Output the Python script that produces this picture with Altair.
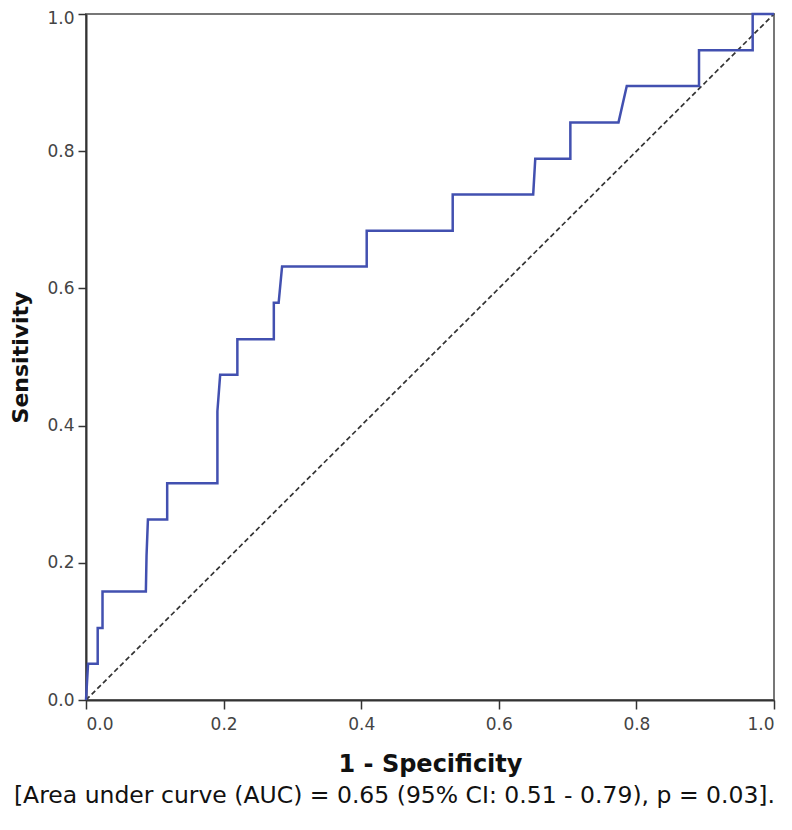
import altair as alt
import pandas as pd

# ROC curve step points (1 - specificity, sensitivity)
fpr = [0.0, 0.003, 0.017, 0.017, 0.024, 0.024, 0.087, 0.088, 0.090, 0.118, 0.118,
       0.191, 0.191, 0.195, 0.220, 0.220, 0.273, 0.273, 0.280, 0.285, 0.408, 0.408,
       0.533, 0.533, 0.650, 0.653, 0.704, 0.704, 0.774, 0.786, 0.891, 0.891,
       0.969, 0.969, 1.0]
tpr = [0.0, 0.053, 0.053, 0.105, 0.105, 0.158, 0.158, 0.211, 0.263, 0.263, 0.316,
       0.316, 0.421, 0.474, 0.474, 0.526, 0.526, 0.579, 0.579, 0.632, 0.632, 0.684,
       0.684, 0.737, 0.737, 0.789, 0.789, 0.842, 0.842, 0.895, 0.895, 0.947,
       0.947, 1.0, 1.0]

ref_x = [0.0, 1.0]
ref_y = [0.0, 1.0]

ticks = [0.0, 0.2, 0.4, 0.6, 0.8, 1.0]
caption = "[Area under curve (AUC) = 0.65 (95% CI: 0.51 - 0.79), p = 0.03]."

roc = pd.DataFrame({"fpr": fpr, "tpr": tpr, "order": list(range(len(fpr)))})
diag = pd.DataFrame({"fpr": ref_x, "tpr": ref_y})

xscale = alt.Scale(domain=[0, 1], nice=False)
yscale = alt.Scale(domain=[0, 1], nice=False)

xaxis = alt.Axis(values=ticks, format=".1f", title="1 - Specificity")
yaxis = alt.Axis(values=ticks, format=".1f", title="Sensitivity",
                 labelOffset={"condition": {"test": "datum.value == 1", "value": 4}, "value": 0})

diag_line = alt.Chart(diag).mark_line(color="#333", strokeWidth=1.7, strokeDash=[5, 3]).encode(
    x=alt.X("fpr:Q", scale=xscale, axis=xaxis),
    y=alt.Y("tpr:Q", scale=yscale, axis=yaxis),
)

roc_line = alt.Chart(roc).mark_line(color="#4250b0", strokeWidth=2.5).encode(
    x=alt.X("fpr:Q", scale=xscale, axis=xaxis),
    y=alt.Y("tpr:Q", scale=yscale, axis=yaxis),
    order="order:Q",
)

chart = alt.layer(diag_line, roc_line).properties(
    width=688, height=686,
    padding={"left": 78, "top": 6, "right": 10, "bottom": 122},
    autosize=alt.AutoSizeParams(type="none"),
    title=alt.TitleParams(text=caption, orient="bottom", anchor="middle", frame="bounds",
                          font="DejaVu Sans", fontSize=23.5, fontWeight="normal",
                          color="#111", offset=8),
).configure_view(
    stroke="#777", strokeWidth=2
).configure_axis(
    grid=False, labelFont="DejaVu Sans", labelFontSize=17, labelColor="#444",
    titleFont="DejaVu Sans", titleFontWeight="bold", titleColor="#111",
    tickColor="#333", tickWidth=1.5, domainColor="#333", domainWidth=2,
).configure_axisX(
    tickSize=9, labelPadding=7, titleFontSize=24, titlePadding=20,
).configure_axisY(
    tickSize=8, labelPadding=4, titleFontSize=22, titlePadding=14,
)

chart.save("out.html", embed_options={"renderer": "svg", "actions": False})
